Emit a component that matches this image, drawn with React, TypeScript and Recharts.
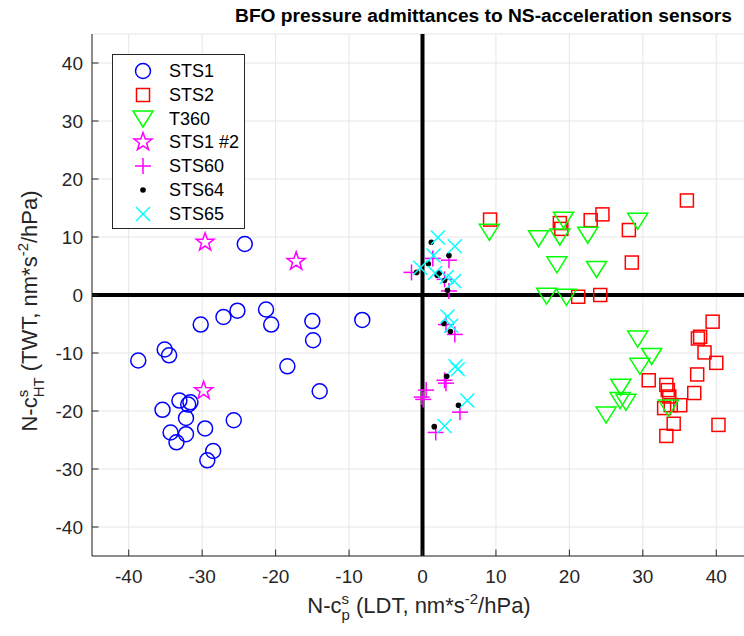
import React from "react";
import { ScatterChart, Scatter, XAxis, YAxis, CartesianGrid, ReferenceLine } from "recharts";

const TICKS = [-40, -30, -20, -10, 0, 10, 20, 30, 40];
const DOMAIN: [number, number] = [-45, 45];

const sts1X = [-24.2, -25.2, -27.1, -30.2, -21.3, -20.6, -15.0, -14.9, -8.2, -35.1, -34.5, -38.7, -18.4, -14.0, -33.1, -31.6, -31.9, -35.4, -32.2, -29.6, -25.7, -34.3, -32.2, -33.5, -28.5, -29.3];
const sts1Y = [8.8, -2.7, -3.8, -5.1, -2.5, -5.1, -4.5, -7.8, -4.3, -9.4, -10.4, -11.3, -12.3, -16.6, -18.2, -18.5, -18.9, -19.8, -21.2, -23.0, -21.6, -23.7, -24.0, -25.4, -26.9, -28.5];

const sts2X = [9.2, 18.7, 18.9, 22.9, 24.5, 28.1, 36.0, 28.5, 21.2, 24.2, 39.5, 37.5, 37.8, 38.4, 40.0, 37.4, 30.8, 33.2, 33.4, 33.6, 37.0, 35.1, 32.9, 33.8, 34.2, 40.3, 33.2];
const sts2Y = [13.0, 12.4, 11.4, 12.9, 13.9, 11.2, 16.3, 5.6, -0.3, 0.0, -4.6, -7.5, -7.2, -9.9, -11.7, -13.7, -14.7, -15.5, -16.4, -17.5, -16.9, -19.0, -19.5, -19.0, -22.2, -22.4, -24.3];

const t360X = [9.1, 15.8, 19.2, 18.7, 22.5, 29.3, 18.3, 23.7, 16.9, 19.6, 29.3, 31.2, 29.6, 27.0, 26.9, 27.7, 25.0, 33.5];
const t360Y = [10.8, 9.7, 12.9, 10.0, 10.3, 12.7, 5.2, 4.4, -0.2, -0.4, -7.6, -10.6, -12.3, -15.9, -18.2, -18.5, -20.7, -19.5];

const sts1bX = [-29.6, -17.2, -29.8];
const sts1bY = [9.1, 5.8, -16.5];

const sts60X = [3.6, 1.4, -1.5, 3.0, 3.6, 3.2, 4.4, 3.2, 3.0, 0.5, 0.1, -0.1, 5.1, 1.8];
const sts60Y = [6.0, 6.3, 3.9, 2.7, 0.7, -5.1, -6.8, -15.2, -14.7, -16.4, -18.0, -17.6, -20.2, -23.7];

const sts64X = [1.2, 3.6, 0.8, -0.8, 2.3, 2.0, 3.0, 3.4, 2.9, 3.8, 3.3, 4.9, 1.6];
const sts64Y = [9.1, 6.8, 5.4, 3.9, 3.8, 3.4, 2.5, 0.8, -4.9, -6.3, -14.0, -19.0, -22.7];

const sts65X = [2.1, 4.4, 1.5, -0.3, 1.7, 3.3, 4.3, 3.4, 3.9, 4.5, 4.8, 6.1, 3.0];
const sts65Y = [9.9, 8.4, 6.8, 4.7, 3.8, 3.1, 2.4, -3.7, -5.3, -12.3, -12.8, -18.2, -22.6];

const SERIES_NAMES = ["STS1", "STS2", "T360", "STS1 #2", "STS60", "STS64", "STS65"];

const toPoints = (xs: number[], ys: number[]) => xs.map((x, i) => ({ x, y: ys[i] }));

type P = { cx?: number; cy?: number };

const circleShape = ({ cx = 0, cy = 0 }: P) => (
  <circle cx={cx} cy={cy} r={7.5} fill="none" stroke="#0000ff" strokeWidth={1.5} />
);
const squareShape = ({ cx = 0, cy = 0 }: P) => (
  <rect x={cx - 6.5} y={cy - 6.5} width={13} height={13} fill="none" stroke="#ff0000" strokeWidth={1.5} />
);
const triangleShape = ({ cx = 0, cy = 0 }: P) => (
  <polygon
    points={`${cx - 10},${cy - 8} ${cx + 10},${cy - 8} ${cx},${cy + 8}`}
    fill="none"
    stroke="#00ff00"
    strokeWidth={1.5}
  />
);
const starShape = ({ cx = 0, cy = 0 }: P) => {
  const pts: string[] = [];
  for (let i = 0; i < 10; i++) {
    const r = i % 2 === 0 ? 9.5 : 3.8;
    const a = -Math.PI / 2 + (i * Math.PI) / 5;
    pts.push(`${cx + r * Math.cos(a)},${cy + r * Math.sin(a)}`);
  }
  return <polygon points={pts.join(" ")} fill="none" stroke="#ff00ff" strokeWidth={1.5} />;
};
const plusShape = ({ cx = 0, cy = 0 }: P) => (
  <g stroke="#ff00ff" strokeWidth={1.5}>
    <line x1={cx - 8} y1={cy} x2={cx + 8} y2={cy} />
    <line x1={cx} y1={cy - 8} x2={cx} y2={cy + 8} />
  </g>
);
const dotShape = ({ cx = 0, cy = 0 }: P) => <circle cx={cx} cy={cy} r={2.8} fill="#000" />;
const xShape = ({ cx = 0, cy = 0 }: P) => (
  <g stroke="#00ffff" strokeWidth={1.5}>
    <line x1={cx - 7} y1={cy - 7} x2={cx + 7} y2={cy + 7} />
    <line x1={cx - 7} y1={cy + 7} x2={cx + 7} y2={cy - 7} />
  </g>
);

const SHAPES = [circleShape, squareShape, triangleShape, starShape, plusShape, dotShape, xShape];

const Legend = () => (
  <div
    style={{
      position: "absolute",
      left: 112,
      top: 54,
      width: 131,
      height: 173,
      border: "1px solid #262626",
      background: "#fff",
    }}
  >
    {SERIES_NAMES.map((name, i) => {
      const Shape = SHAPES[i];
      return (
        <div key={name} style={{ position: "absolute", left: 0, top: 4 + i * 23.8, height: 24, width: 131 }}>
          <svg width={40} height={24} style={{ position: "absolute", left: 10, top: 0 }}>
            <Shape cx={20} cy={12} />
          </svg>
          <span style={{ position: "absolute", left: 56, top: 1, fontSize: 18, lineHeight: "22px", color: "#000" }}>
            {name}
          </span>
        </div>
      );
    })}
  </div>
);

const Labels = () => (
  <svg width={744} height={636} style={{ position: "absolute", left: 0, top: 0, pointerEvents: "none" }}>
    <text x={483.5} y={22} textAnchor="middle" fontWeight="bold" fontSize={19.2} fill="#000">
      BFO pressure admittances to NS-acceleration sensors
    </text>
    <text x={419} y={613} textAnchor="middle" fontSize={22} fill="#262626">
      N-c
      <tspan dy={-9} fontSize={15}>s</tspan>
      <tspan dx={-7.5} dy={16} fontSize={15}>p</tspan>
      <tspan dy={-7}> (LDT, nm*s</tspan>
      <tspan dy={-9} fontSize={15}>-2</tspan>
      <tspan dy={9}>/hPa)</tspan>
    </text>
    <text transform="rotate(-90)" x={-311} y={37} textAnchor="middle" fontSize={22} fill="#262626">
      N-c
      <tspan dy={-9} fontSize={15}>s</tspan>
      <tspan dx={-7.5} dy={16} fontSize={15}>HT</tspan>
      <tspan dy={-7}> (TWT, nm*s</tspan>
      <tspan dy={-9} fontSize={15}>-2</tspan>
      <tspan dy={9}>/hPa)</tspan>
    </text>
  </svg>
);

const App = () => {
  const seriesData = [
    toPoints(sts1X, sts1Y),
    toPoints(sts2X, sts2Y),
    toPoints(t360X, t360Y),
    toPoints(sts1bX, sts1bY),
    toPoints(sts60X, sts60Y),
    toPoints(sts64X, sts64Y),
    toPoints(sts65X, sts65Y),
  ];

  return (
    <div
      style={{
        position: "absolute",
        left: 0,
        top: 0,
        width: 744,
        height: 636,
        overflow: "hidden",
        background: "#fff",
        fontFamily: '"Liberation Sans", Arial, sans-serif',
      }}
    >
      <ScatterChart width={760} height={636} margin={{ top: 34, right: 7, bottom: 40, left: 32 }}>
        <CartesianGrid stroke="#e6e6e6" />
        <XAxis
          type="number"
          dataKey="x"
          domain={DOMAIN}
          ticks={TICKS}
          allowDataOverflow
          height={40}
          tickSize={-6.5}
          tickMargin={20.5}
          axisLine={{ stroke: "#262626" }}
          tickLine={{ stroke: "#262626" }}
          tick={{ fill: "#262626", fontSize: 19 }}
        />
        <XAxis
          xAxisId="top"
          orientation="top"
          type="number"
          dataKey="x"
          domain={DOMAIN}
          ticks={TICKS}
          allowDataOverflow
          height={0}
          tickSize={-6.5}
          tick={false}
          axisLine={{ stroke: "#262626" }}
          tickLine={{ stroke: "#262626" }}
        />
        <YAxis
          type="number"
          dataKey="y"
          domain={DOMAIN}
          ticks={TICKS}
          allowDataOverflow
          width={60}
          tickSize={-6.5}
          tickMargin={15.5}
          axisLine={{ stroke: "#262626" }}
          tickLine={{ stroke: "#262626" }}
          tick={{ fill: "#262626", fontSize: 19 }}
        />
        <ReferenceLine x={0} stroke="#000" strokeWidth={4} />
        <ReferenceLine y={0} stroke="#000" strokeWidth={4} />
        {seriesData.map((data, i) => (
          <Scatter
            key={SERIES_NAMES[i]}
            name={SERIES_NAMES[i]}
            data={data}
            shape={SHAPES[i]}
            isAnimationActive={false}
          />
        ))}
      </ScatterChart>
      <Labels />
      <Legend />
    </div>
  );
};

export default App;
